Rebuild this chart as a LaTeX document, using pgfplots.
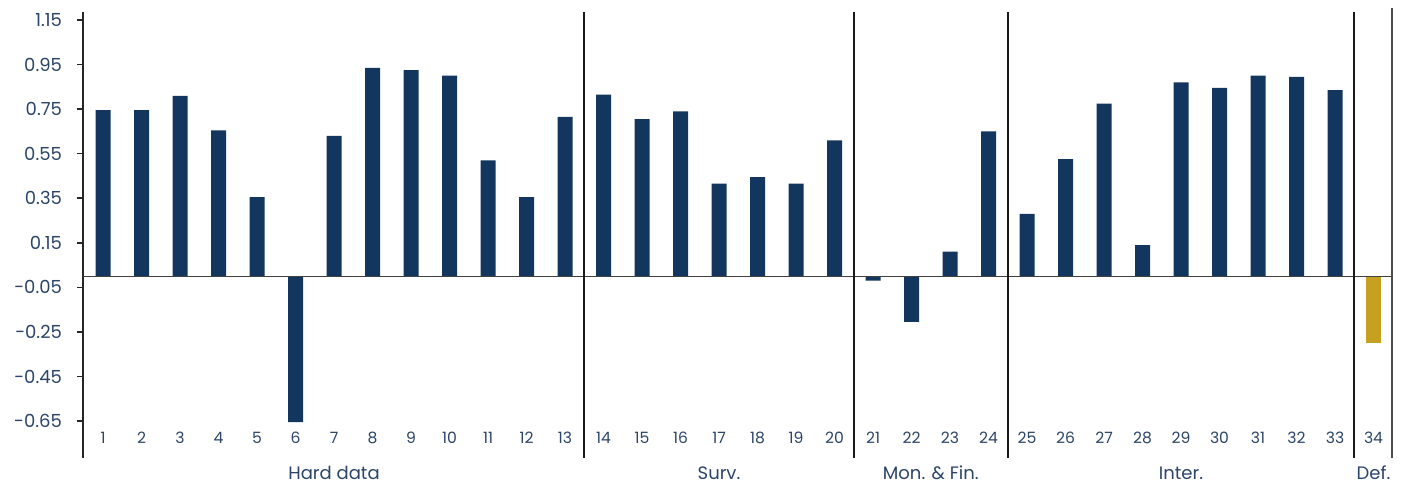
\documentclass[border=0pt]{standalone}
\usepackage{pgfplots}
\pgfplotsset{compat=1.18}
\usepackage{fontspec}
\setmainfont{Poppins}
\definecolor{navy}{HTML}{13365F}
\definecolor{gold}{HTML}{C6A020}
\definecolor{txt}{HTML}{2B4468}
\begin{document}
\begin{tikzpicture}
\begin{axis}[
  width=654.5pt, height=223pt, scale only axis,
  xmin=0.48, xmax=34.48,
  ymin=-0.816, ymax=1.186,
  axis x line=none,
  axis y line*=left,
  axis line style={black!85, line width=0.8pt},
  ytick={-0.65,-0.45,-0.25,-0.05,0.15,0.35,0.55,0.75,0.95,1.15},
  yticklabel style={font=\fontsize{9}{11}\selectfont, text=txt, xshift=-4pt},
  y tick label style={/pgf/number format/.cd, fixed, fixed zerofill, precision=2, assume math mode=true},
  tick align=outside, major tick length=3pt,
  tick style={black!85, line width=0.8pt},
  ytick pos=left,
  clip=false,
  ybar, bar width=7.5pt,
]
\addplot[fill=navy, draw=none, bar shift=0pt] coordinates {
(1,0.745) (2,0.745) (3,0.81) (4,0.655) (5,0.355) (6,-0.655) (7,0.63)
(8,0.935) (9,0.925) (10,0.90) (11,0.52) (12,0.355) (13,0.715)
(14,0.815) (15,0.705) (16,0.74) (17,0.415) (18,0.445) (19,0.415) (20,0.61)
(21,-0.02) (22,-0.205) (23,0.11) (24,0.65)
(25,0.28) (26,0.525) (27,0.775) (28,0.14) (29,0.87) (30,0.845)
(31,0.90) (32,0.895) (33,0.835)
};
\addplot[fill=gold, draw=none, bar shift=0pt] coordinates {(34,-0.30)};
% zero line
\draw[black!75, line width=0.7pt] (axis cs:0.48,0) -- (axis cs:34.48,0);
% group separators
\pgfplotsinvokeforeach{13.5,20.5,24.5,33.5}{
  \draw[black!90, line width=0.8pt] (axis cs:#1,-0.816) -- (axis cs:#1,1.186);
}
\draw[black!70, line width=0.8pt] (axis cs:34.48,-0.816) -- (axis cs:34.48,1.205);
% category numbers
\pgfplotsinvokeforeach{1,...,34}{
  \node[font=\fontsize{7.8}{9}\selectfont, text=txt] at (axis cs:#1,-0.727) {#1};
}
% group labels
\node[font=\fontsize{9}{11}\selectfont, text=txt] at (axis cs:7,-0.883) {Hard data};
\node[font=\fontsize{9}{11}\selectfont, text=txt] at (axis cs:17,-0.883) {Surv.};
\node[font=\fontsize{9}{11}\selectfont, text=txt] at (axis cs:22.5,-0.883) {Mon. \& Fin.};
\node[font=\fontsize{9}{11}\selectfont, text=txt] at (axis cs:29,-0.883) {Inter.};
\node[font=\fontsize{9}{11}\selectfont, text=txt] at (axis cs:34,-0.883) {Def.};
\end{axis}
\pgfresetboundingbox
\path ([xshift=-41.5pt,yshift=-13pt]current axis.south west) rectangle ([xshift=14pt,yshift=6pt]current axis.north east);
\end{tikzpicture}
\end{document}
